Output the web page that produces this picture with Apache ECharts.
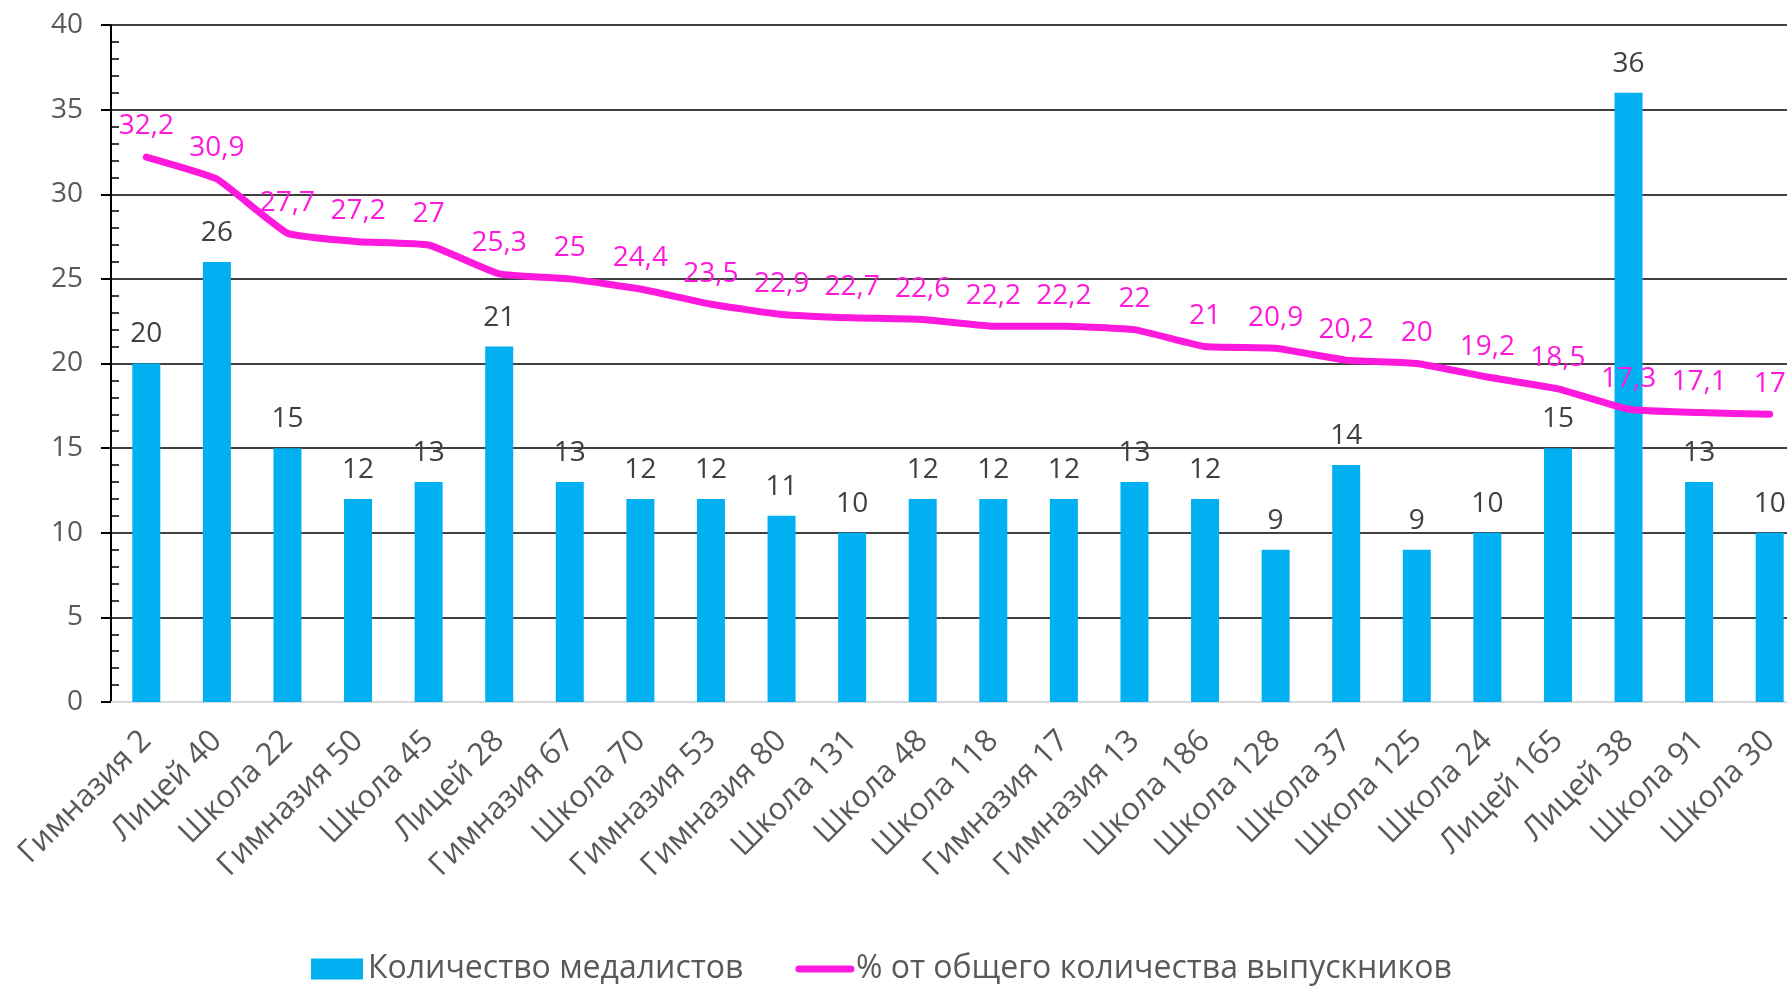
<!DOCTYPE html>
<html>
<head>
<meta charset="utf-8">
<script src="https://cdn.jsdelivr.net/npm/echarts@6/dist/echarts.min.js"></script>
<style>
  html, body { margin: 0; padding: 0; background: #fff; }
  #chart { width: 1787px; height: 992px; }
</style>
</head>
<body>
<div id="chart"></div>
<script>
// Schools, ordered by share of graduates who received medals
const schools = ['Гимназия 2', 'Лицей 40', 'Школа 22', 'Гимназия 50', 'Школа 45', 'Лицей 28',
  'Гимназия 67', 'Школа 70', 'Гимназия 53', 'Гимназия 80', 'Школа 131', 'Школа 48',
  'Школа 118', 'Гимназия 17', 'Гимназия 13', 'Школа 186', 'Школа 128', 'Школа 37',
  'Школа 125', 'Школа 24', 'Лицей 165', 'Лицей 38', 'Школа 91', 'Школа 30'];

// Number of medalists per school
const medalists = [20, 26, 15, 12, 13, 21, 13, 12, 12, 11, 10, 12, 12, 12, 13, 12, 9, 14, 9, 10, 15, 36, 13, 10];

// Percentage of all graduates
const sharePct = [32.2, 30.9, 27.7, 27.2, 27, 25.3, 25, 24.4, 23.5, 22.9, 22.7, 22.6, 22.2, 22.2,
  22, 21, 20.9, 20.2, 20, 19.2, 18.5, 17.3, 17.1, 17];

const seriesNames = ['Количество медалистов', '% от общего количества выпускников'];
const yTicks = { min: 0, max: 40, interval: 5 };

const FONT = '"Open Sans", "Noto Sans", sans-serif';
const BAR_COLOR = '#00B0F0';
const LINE_COLOR = '#FF19DC';

const chart = echarts.init(document.getElementById('chart'), null, { renderer: 'canvas' });

chart.setOption({
  animation: false,
  backgroundColor: '#ffffff',
  textStyle: { fontFamily: FONT },
  // plot area runs slightly past the right edge of the canvas
  grid: { left: 111, top: 25, width: 1694, height: 677, containLabel: false, outerBoundsMode: 'none' },
  legend: {
    bottom: 2,
    left: 306,
    itemWidth: 52,
    itemHeight: 21,
    itemGap: 52,
    textStyle: { fontFamily: FONT, fontSize: 32, color: '#595959' },
    data: [
      { name: seriesNames[0], icon: 'rect' },
      { name: seriesNames[1], itemStyle: { opacity: 0 }, lineStyle: { width: 7, cap: 'round', color: LINE_COLOR } }
    ]
  },
  xAxis: {
    type: 'category',
    data: schools,
    boundaryGap: true,
    axisLine: { show: true, lineStyle: { color: '#D9D9D9', width: 2 } },
    axisTick: { show: false },
    axisLabel: {
      interval: 0,
      rotate: 45,
      margin: 34,
      fontFamily: FONT,
      fontSize: 31,
      color: '#595959'
    },
    splitLine: { show: false }
  },
  yAxis: [
    {
      type: 'value',
      min: yTicks.min,
      max: yTicks.max,
      interval: yTicks.interval,
      axisLine: { show: true, lineStyle: { color: '#000', width: 2 } },
      axisTick: { show: true, length: 10, lineStyle: { color: '#000', width: 2 } },
      axisLabel: { margin: 28, fontFamily: FONT, fontSize: 28, color: '#595959' },
      splitLine: { show: true, lineStyle: { color: '#000', width: 1.5 } }
    },
    {
      // companion axis drawing the inner minor ticks
      type: 'value',
      position: 'left',
      offset: 0,
      min: yTicks.min,
      max: yTicks.max,
      interval: yTicks.interval,
      axisLine: { show: false },
      axisTick: { show: false, inside: true },
      minorTick: { show: true, splitNumber: 5, length: 8, lineStyle: { color: '#000', width: 1.5 } },
      axisLabel: { show: false },
      splitLine: { show: false }
    }
  ],
  series: [
    {
      name: seriesNames[0],
      type: 'bar',
      data: medalists,
      barWidth: 28,
      itemStyle: { color: BAR_COLOR },
      label: {
        show: true,
        position: 'top',
        distance: 15,
        fontFamily: FONT,
        fontSize: 28,
        color: '#404040'
      },
      z: 2
    },
    {
      name: seriesNames[1],
      type: 'line',
      data: sharePct,
      smooth: 0.12,
      symbol: 'circle',
      symbolSize: 1,
      showSymbol: true,
      lineStyle: { color: LINE_COLOR, width: 7, cap: 'round', join: 'round' },
      itemStyle: { color: LINE_COLOR, opacity: 0 },
      label: {
        show: true,
        position: 'top',
        distance: 16,
        fontFamily: FONT,
        fontSize: 28,
        color: LINE_COLOR,
        opacity: 1,
        formatter: p => String(p.value).replace('.', ',')
      },
      z: 3
    }
  ]
});
</script>
</body>
</html>
